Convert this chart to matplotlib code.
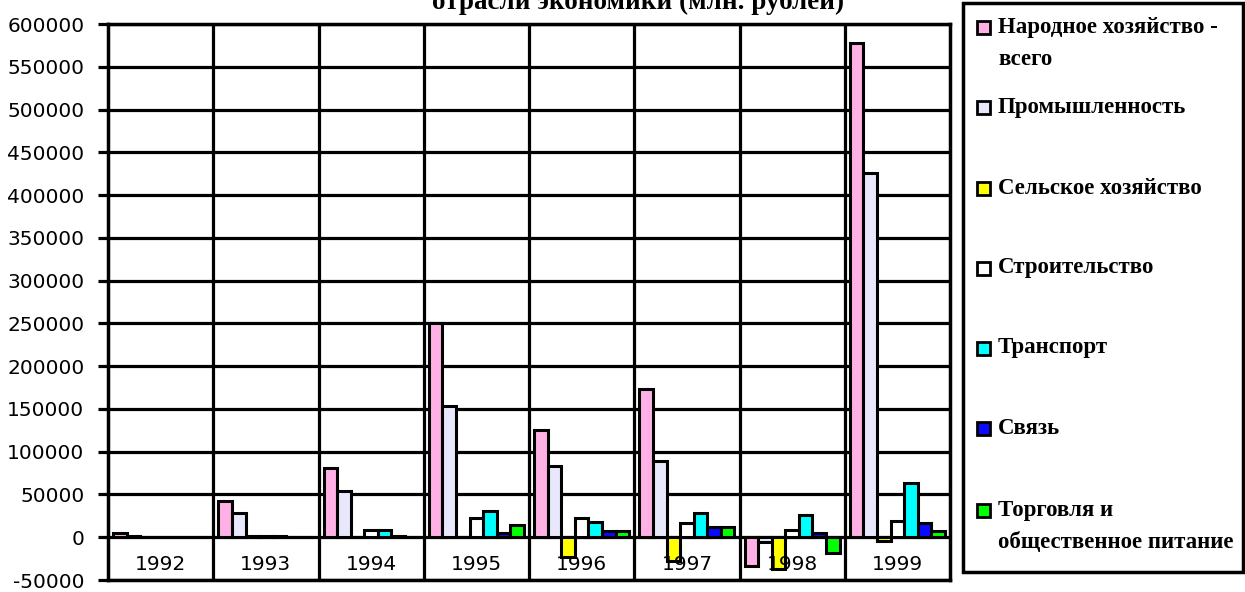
import numpy as np
import matplotlib.pyplot as plt
from matplotlib.patches import Rectangle

# =========================
# данные (млн. рублей)
# =========================
years = ["1992", "1993", "1994", "1995", "1996", "1997", "1998", "1999"]

series_names = [
    "Народное хозяйство -\nвсего",
    "Промышленность",
    "Сельское хозяйство",
    "Строительство",
    "Транспорт",
    "Связь",
    "Торговля и\nобщественное питание",
]

narodnoe = [5000, 42500, 81000, 250000, 125000, 173000, -34000, 578000]
promyshl = [2000, 28500, 54000, 153000, 83000, 89000, -6000, 426000]
selskoe = [0, 1000, 0, 0, -23000, -28000, -37000, -4000]
stroit = [0, 1500, 8500, 22500, 22500, 17000, 8000, 18500]
transport = [0, 1500, 8500, 30500, 17500, 28500, 26000, 63500]
svyaz = [0, 0, 2000, 5500, 7500, 11500, 5500, 16500]
torgovlya = [0, 0, 0, 14000, 7500, 11500, -18000, 7000]

values = [narodnoe, promyshl, selskoe, stroit, transport, svyaz, torgovlya]
colors = ["#FFB0E4", "#E8E8FC", "#FFFF00", "#FFFFFF", "#00FFFF", "#0A0AFF", "#00FF00"]

# =========================
# фигура
# =========================
W, H = 1245, 592
fig = plt.figure(figsize=(W / 100, H / 100), dpi=100)
ax = fig.add_axes([108 / W, (H - 580) / H, (950 - 108) / W, (580 - 24) / H])

x = np.arange(len(years))
bw = 0.129
for j, (vals, col) in enumerate(zip(values, colors)):
    ax.bar(x + (j - 3) * bw, vals, width=bw, color=col,
           edgecolor="black", linewidth=2.2, zorder=3)

ax.set_xlim(-0.5, len(years) - 0.5)
ax.set_ylim(-50000, 600000)
ax.set_yticks(np.arange(-50000, 600001, 50000))
ax.set_yticklabels([str(v) for v in range(-50000, 600001, 50000)])

ax.set_xticks(x)
ax.set_xticklabels([])
ax.set_xticks(x[:-1] + 0.5, minor=True)

# подписи годов внутри области, поверх столбцов
for xi, yr in zip(x, years):
    ax.text(xi, 0.027, yr, transform=ax.get_xaxis_transform(),
            ha="center", va="center", fontsize=14.5, zorder=5)

ax.grid(axis="y", which="major", color="black", linewidth=2.3, zorder=1)
ax.grid(axis="x", which="minor", color="black", linewidth=2.3, zorder=1)
ax.set_axisbelow(True)

for s in ax.spines.values():
    s.set_linewidth(2.5)

ax.tick_params(axis="y", length=7, width=2.3, pad=10, labelsize=14.5)
ax.tick_params(axis="x", which="both", length=0)

# заголовок (верхняя часть обрезана, как в оригинале)
fig.text(638 / W, (H - 9) / H, "отрасли экономики (млн. рублей)",
         ha="center", va="baseline", fontsize=19.5, fontweight="bold",
         family="Liberation Serif")

# =========================
# легенда
# =========================
lg = fig.add_axes([0, 0, 1, 1], zorder=5)
lg.set_xlim(0, W)
lg.set_ylim(H, 0)
lg.axis("off")
lg.add_patch(Rectangle((963, 3), 280, 569, fill=False, edgecolor="black", linewidth=2.5))

rows = [27, 107, 188, 268, 348, 428, 510]
for name, col, yy in zip(series_names, colors, rows):
    lg.add_patch(Rectangle((977, yy - 6.5), 13, 13, facecolor=col,
                           edgecolor="black", linewidth=2.0))
    if "\n" in name:
        lg.text(998, yy - 10, name, ha="left", va="top", fontsize=16.5,
                family="Liberation Serif", fontweight="bold", linespacing=1.7)
    else:
        lg.text(998, yy, name, ha="left", va="center", fontsize=16.5,
                family="Liberation Serif", fontweight="bold")

fig.savefig("out.png", dpi=100)
